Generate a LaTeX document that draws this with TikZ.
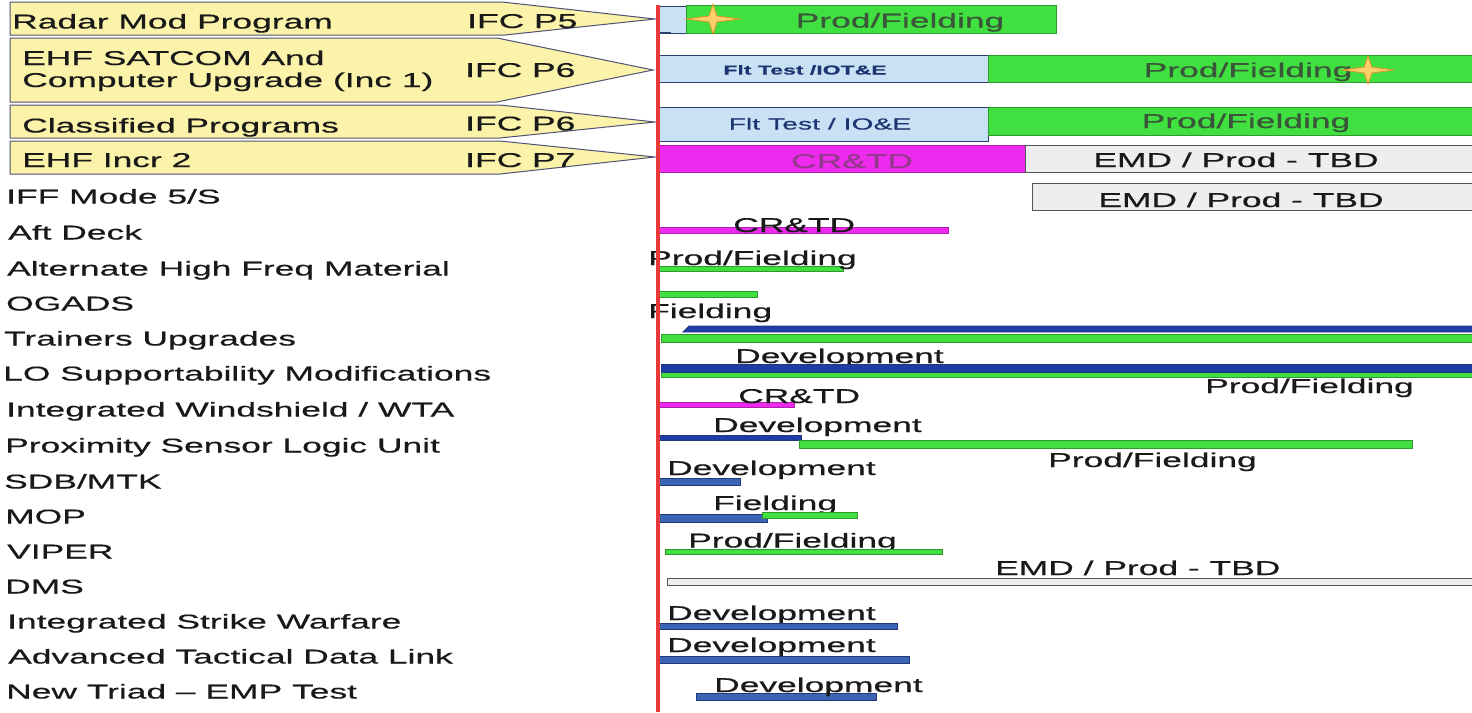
\documentclass[tikz,border=0pt]{standalone}
\usepackage{fontspec}
\setmainfont{Liberation Sans}[FakeStretch=1.77, FakeBold=0.5]
\definecolor{calloutfill}{HTML}{FBF3AA}
\definecolor{calloutedge}{HTML}{4F5175}
\definecolor{prodgreen}{HTML}{3FE03F}
\definecolor{prodedge}{HTML}{2E9A2E}
\definecolor{prodtext}{HTML}{3A553A}
\definecolor{testblue}{HTML}{C9E1F5}
\definecolor{testedge}{HTML}{2B3F6E}
\definecolor{testtext}{HTML}{1E3470}
\definecolor{crtd}{HTML}{EE2AEE}
\definecolor{crtdedge}{HTML}{B020B0}
\definecolor{crtdtext}{HTML}{94388C}
\definecolor{tbdgray}{HTML}{EEEEEE}
\definecolor{tbdedge}{HTML}{555555}
\definecolor{devdark}{HTML}{1E3CA8}
\definecolor{devblue}{HTML}{3C64B4}
\definecolor{devedge}{HTML}{22387A}
\definecolor{nowred}{HTML}{E8383A}
\definecolor{starfill}{HTML}{FCCF6A}
\definecolor{staredge}{HTML}{D9962A}
\tikzset{
  lbl/.style={anchor=base west, inner sep=0pt, font=\fontsize{20}{24}\selectfont, text=black!90},
  ctr/.style={anchor=base, inner sep=0pt, font=\fontsize{20}{24}\selectfont, text=black!90},
  callout/.style={fill=calloutfill, draw=calloutedge, line width=1pt},
  prodbar/.style={fill=prodgreen, draw=prodedge, line width=0.9pt},
  testbar/.style={fill=testblue, draw=testedge, line width=0.9pt},
  crtdbar/.style={fill=crtd, draw=crtdedge, line width=0.9pt},
  tbdbar/.style={fill=tbdgray, draw=tbdedge, line width=1pt},
  devbar/.style={fill=devblue, draw=devedge, line width=0.8pt},
  devbardark/.style={fill=devdark, draw=devedge, line width=0.8pt},
  sparklestyle/.style={fill=starfill, draw=staredge, line width=0.8pt},
  nowline/.style={draw=nowred, line width=3.5pt}
}
% four-pointed sparkle marker: centre x, centre y, half width, half height
\newcommand\sparkle[4]{%
  \draw[sparklestyle] (#1,#2) ++(-#3,0) -- ++({#3-4},-3) -- ++(4,{-#4+3})
    -- ++(4,{#4-3}) -- ++({#3-4},3) -- ++({-#3+4},3) -- ++(-4,{#4-3})
    -- ++(-4,{-#4+3}) -- cycle;}
\begin{document}
\begin{tikzpicture}[x=1pt,y=-1pt]
\useasboundingbox (0,0) rectangle (1472,712);
\clip (0,0) rectangle (1472,712);
\fill[white] (0,0) rectangle (1472,712);

% ---- callouts for the funded programs ----
\draw[callout] (10,2) -- (502,2) -- (655,19) -- (505,35) -- (10,35) -- cycle;
\draw[callout] (10,38) -- (497,38) -- (653,70) -- (497,102) -- (10,102) -- cycle;
\draw[callout] (10,105) -- (500,105) -- (655,122) -- (500,138) -- (10,138) -- cycle;
\draw[callout] (10,141) -- (500,141) -- (655,157) -- (500,174) -- (10,174) -- cycle;

\node[lbl] (radar)  at (12,28.5)  {Radar Mod Program};
\node[lbl] (ifc5)   at (467,28)   {IFC P5};
\node[lbl] (ehf1a)  at (22,65)    {EHF SATCOM And};
\node[lbl] (ehf1b)  at (22,87)    {Computer Upgrade (Inc 1)};
\node[lbl] (ifc6a)  at (465,77)   {IFC P6};
\node[lbl] (class)  at (22,132.5) {Classified Programs};
\node[lbl] (ifc6b)  at (465,130.5){IFC P6};
\node[lbl] (ehf2)   at (22,167)   {EHF Incr 2};
\node[lbl] (ifc7)   at (465,167)  {IFC P7};

% ---- remaining program names ----
\node[lbl] (iff)    at (6,203.5)  {IFF Mode 5/S};
\node[lbl] (aft)    at (8,239.5)  {Aft Deck};
\node[lbl] (ahf)    at (7,275.5)  {Alternate High Freq Material};
\node[lbl] (ogads)  at (6,310.5)  {OGADS};
\node[lbl] (train)  at (4,345.5)  {Trainers Upgrades};
\node[lbl] (lo)     at (3,380.5)  {LO Supportability Modifications};
\node[lbl] (iwta)   at (6,416.5)  {Integrated Windshield / WTA};
\node[lbl] (prox)   at (5,452.5)  {Proximity Sensor Logic Unit};
\node[lbl] (sdb)    at (4,488.5)  {SDB/MTK};
\node[lbl] (mop)    at (5,523.5)  {MOP};
\node[lbl] (viper)  at (7,558.5)  {VIPER};
\node[lbl] (dms)    at (5,593.5)  {DMS};
\node[lbl] (isw)    at (7,628.5)  {Integrated Strike Warfare};
\node[lbl] (atdl)   at (8,663.5)  {Advanced Tactical Data Link};
\node[lbl] (triad)  at (6,698.5)  {New Triad -- EMP Test};

% ---- Radar Mod Program ----
\draw[testbar] (659,6) rectangle (686,33);
\draw[testedge, line width=1.5pt] (659,32.5) -- (671,32.5);
\draw[prodbar] (686,5) rectangle (1056,33);
\sparkle{713}{19}{27}{15}
\node[ctr, text=prodtext] (radarprod) at (900,27.5) {Prod/Fielding};

% ---- EHF SATCOM / computer upgrade ----
\draw[testbar] (659,55) rectangle (988,82);
\draw[prodbar] (988,55) rectangle (1480,82);
\node[ctr, font=\fontsize{13}{16}\selectfont\bfseries, text=testtext] (ehf1test) at (805,74.5) {Flt Test /IOT\&E};
\node[ctr, text=prodtext] (ehf1prod) at (1248,77) {Prod/Fielding};
\sparkle{1368}{70}{26}{14}

% ---- Classified Programs ----
\draw[testbar] (659,107) rectangle (988,141);
\draw[prodbar] (988,107) rectangle (1480,135);
\node[ctr, font=\fontsize{16}{19}\selectfont, text=testtext] (classtest) at (820,129.5) {Flt Test / IO\&E};
\node[ctr, text=prodtext] (classprod) at (1246,128) {Prod/Fielding};

% ---- EHF Incr 2 ----
\draw[crtdbar] (659,145) rectangle (1025,172);
\draw[tbdbar] (1025,145) rectangle (1480,172);
\node[ctr, text=crtdtext] (ehf2crtd) at (852,168) {CR\&TD};
\node[ctr] (ehf2tbd) at (1236,167) {EMD / Prod - TBD};

% ---- IFF Mode 5/S ----
\draw[tbdbar] (1032,183) rectangle (1480,210);
\node[ctr] (ifftbd) at (1241,207) {EMD / Prod - TBD};

% ---- Aft Deck ----
\draw[crtdbar] (659,227) rectangle (948,233);
\node[lbl] (aftcrtd) at (733,232) {CR\&TD};

% ---- Alternate High Freq Material ----
\draw[prodbar] (659,266) rectangle (843,271);
\node[lbl] (ahfprod) at (648,265) {Prod/Fielding};

% ---- OGADS ----
\draw[prodbar] (659,291) rectangle (757,297);
\node[lbl] (ogadsfld) at (648,318) {Fielding};

% ---- Trainers Upgrades ----
\draw[devbardark] (683,332) -- (689,326) -- (1480,326) -- (1480,332) -- cycle;
\draw[prodbar] (661,334) rectangle (1480,342);

% ---- LO Supportability Modifications ----
\node[lbl] (lodev) at (735,363) {Development};
\draw[prodbar] (661,371) rectangle (1480,377);
\draw[devbardark] (661,364) rectangle (1480,372);
\node[lbl] (loprod) at (1205,393) {Prod/Fielding};

% ---- Integrated Windshield / WTA ----
\draw[crtdbar] (659,402) rectangle (794,407);
\node[lbl] (iwtacrtd) at (738,403) {CR\&TD};

% ---- Proximity Sensor Logic Unit ----
\node[lbl] (proxdev) at (713,432) {Development};
\draw[devbardark] (659,435) rectangle (801,440);
\draw[prodbar] (799,440) rectangle (1412,448);
\node[lbl] (proxprod) at (1048,467) {Prod/Fielding};

% ---- SDB/MTK ----
\node[lbl] (sdbdev) at (667,475) {Development};
\draw[devbar] (659,478) rectangle (740,485);

% ---- MOP ----
\node[lbl] (mopfld) at (713,510) {Fielding};
\draw[devbar] (659,514) rectangle (767,522);
\draw[prodbar] (762,512) rectangle (857,518);

% ---- VIPER ----
\node[lbl] (viperprod) at (688,547.5) {Prod/Fielding};
\draw[prodbar] (665,549) rectangle (942,554);

% ---- DMS ----
\node[lbl] (dmstbd) at (995,575) {EMD / Prod - TBD};
\draw[tbdbar] (667,578) rectangle (1480,585);

% ---- Integrated Strike Warfare ----
\node[lbl] (iswdev) at (667,620) {Development};
\draw[devbar] (656,623) rectangle (897,629);

% ---- Advanced Tactical Data Link ----
\node[lbl] (atdldev) at (667,652) {Development};
\draw[devbar] (656,656) rectangle (909,663);

% ---- New Triad - EMP Test ----
\draw[devbar] (696,693) rectangle (876,700);
\node[lbl] (triaddev) at (714,692) {Development};

% ---- status date line ----
\coordinate (nowtop) at (658,5);
\coordinate (nowbot) at (658,712);
\draw[nowline] (nowtop) -- (nowbot);
\end{tikzpicture}
\end{document}
